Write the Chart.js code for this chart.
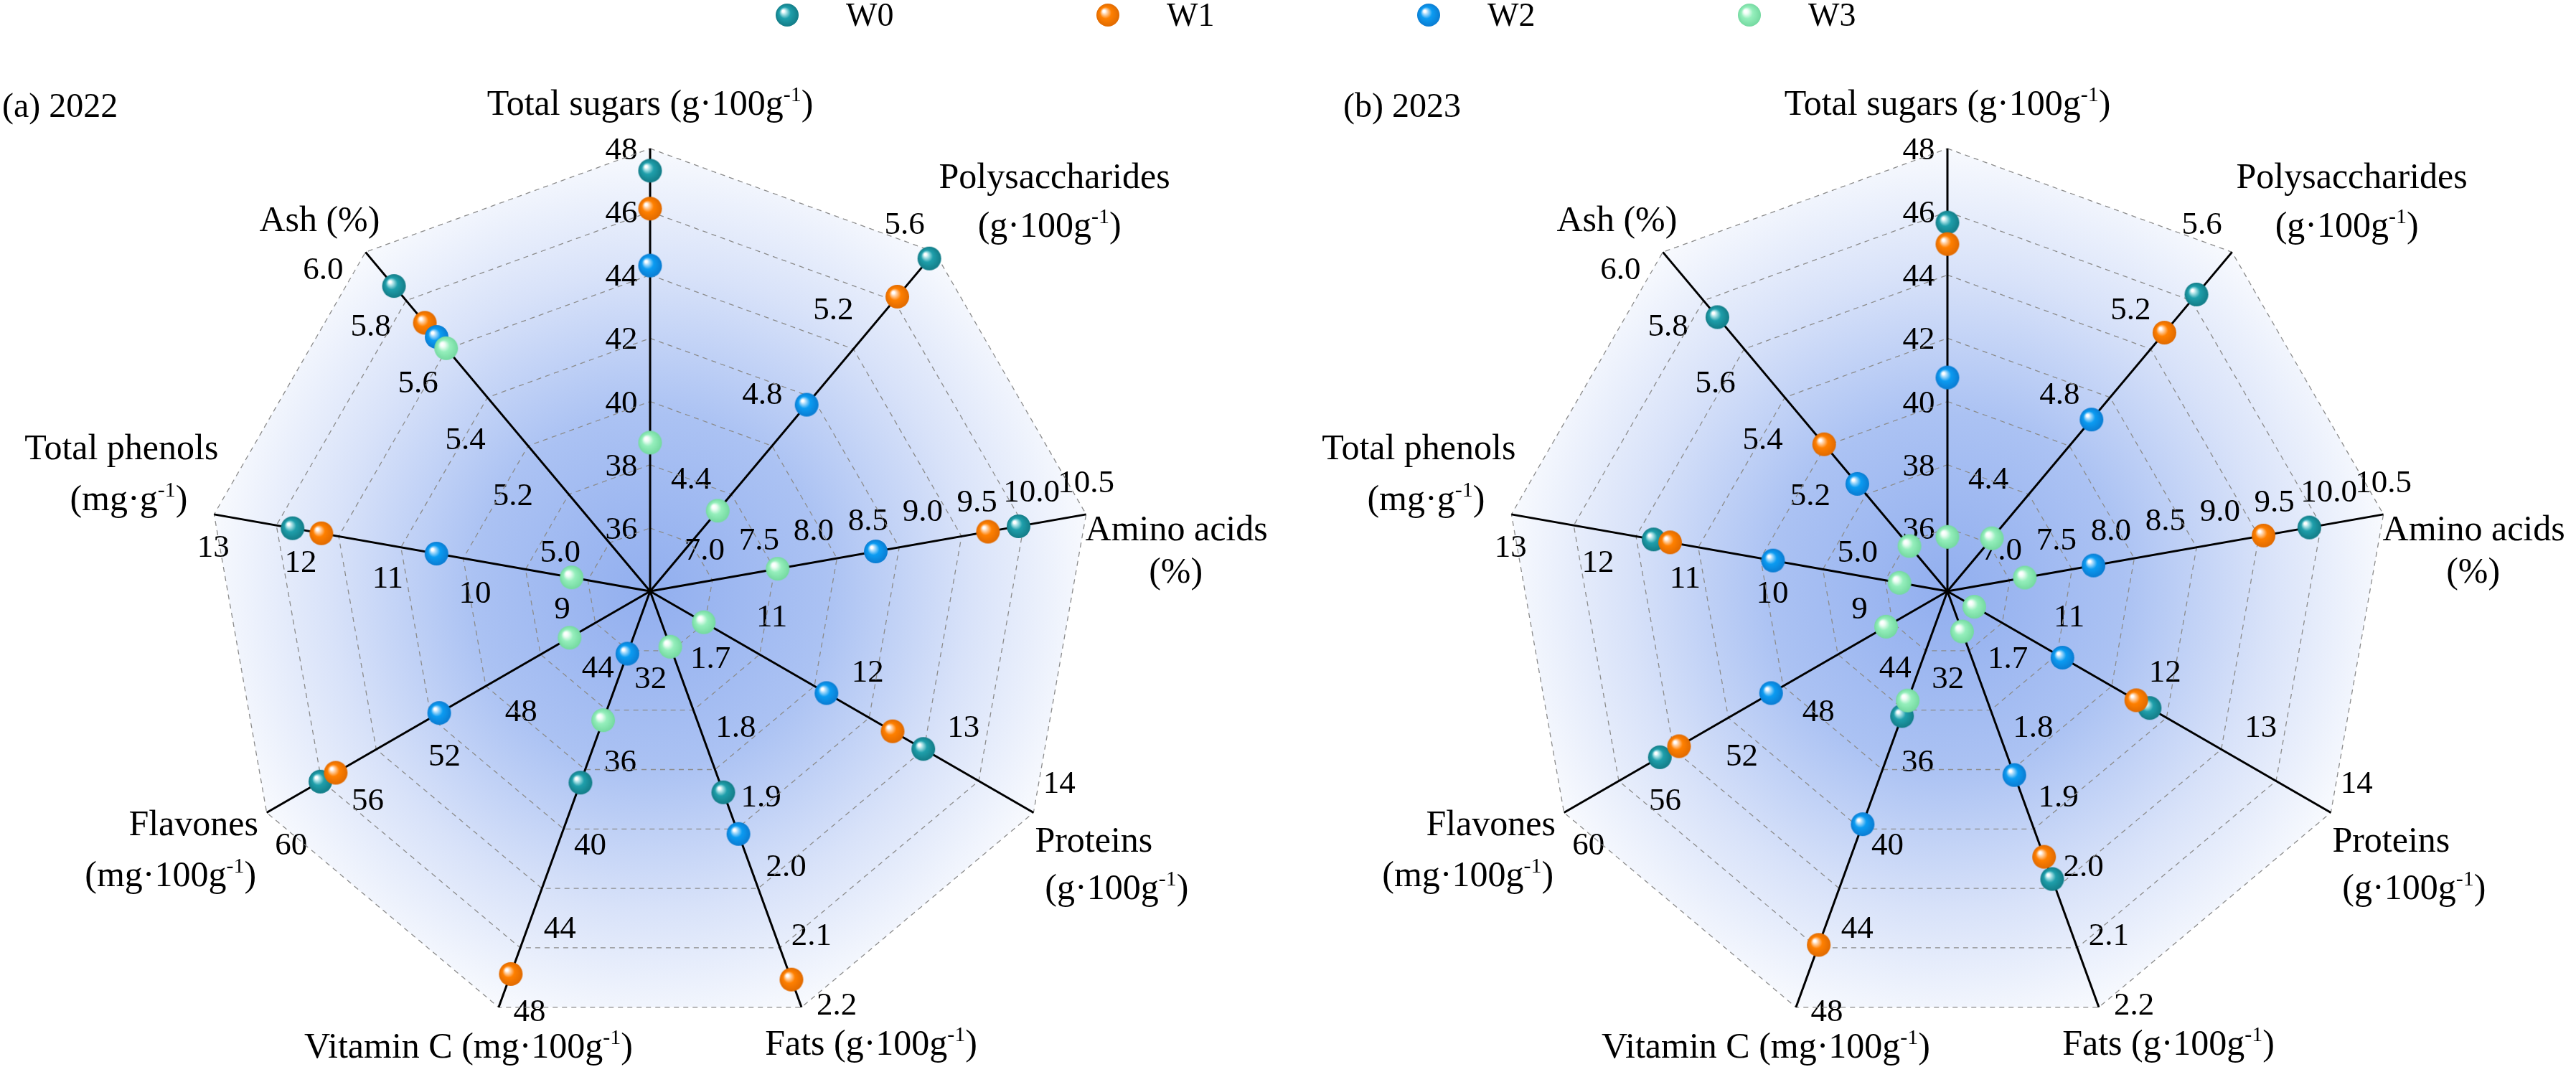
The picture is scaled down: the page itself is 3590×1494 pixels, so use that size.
<!DOCTYPE html>
<html>
<head>
<meta charset="utf-8">
<script src="https://cdn.jsdelivr.net/npm/chart.js@4.4.1/dist/chart.umd.min.js"></script>
<style>
  html, body { margin: 0; padding: 0; background: #fff; }
  #wrap { position: relative; width: 3590px; height: 1494px; overflow: hidden;
          font-family: "Liberation Serif", "Times New Roman", serif; }
  .panel { position: absolute; top: 0; }
  .item { position: absolute; top: 0; height: 42px; }
  .item canvas { position: absolute; top: 4px; }
  .item span { position: absolute; top: -2px; line-height: 46px; font-size: 46px; white-space: nowrap; color: #000; }
</style>
</head>
<body>
<div id="wrap">
  <canvas id="c2022" class="panel" style="left:0px" width="1795" height="1494"></canvas>
  <canvas id="c2023" class="panel" style="left:1795px" width="1795" height="1494"></canvas>
  <div id="legend"></div>
</div>
<script>
// axes, clockwise from the top
const axisLabels = ['Total sugars', 'Polysaccharides', 'Amino acids', 'Proteins', 'Fats',
  'Vitamin C', 'Flavones', 'Total phenols', 'Ash'];
const axisTitles = [
  ['Total sugars (g·100g^{-1})'],
  ['Polysaccharides', '(g·100g^{-1})'],
  ['Amino acids', '(%)'],
  ['Proteins', '(g·100g^{-1})'],
  ['Fats (g·100g^{-1})'],
  ['Vitamin C (mg·100g^{-1})'],
  ['Flavones', '(mg·100g^{-1})'],
  ['Total phenols', '(mg·g^{-1})'],
  ['Ash (%)']
];
const axisMin = [34, 4.0, 6.5, 10, 1.6, 28, 40, 8, 4.8];
const axisMax = [48, 5.6, 10.5, 14, 2.2, 48, 60, 13, 6.0];
const axisTicks = [
  ['36', '38', '40', '42', '44', '46', '48'],
  ['4.4', '4.8', '5.2', '5.6'],
  ['7.0', '7.5', '8.0', '8.5', '9.0', '9.5', '10.0', '10.5'],
  ['11', '12', '13', '14'],
  ['1.7', '1.8', '1.9', '2.0', '2.1', '2.2'],
  ['32', '36', '40', '44', '48'],
  ['44', '48', '52', '56', '60'],
  ['9', '10', '11', '12', '13'],
  ['5.0', '5.2', '5.4', '5.6', '5.8', '6.0']
];

const seriesNames = ['W0', 'W1', 'W2', 'W3'];

// (a) 2022
const w0_2022 = [47.3, 5.57, 9.88, 12.85, 1.89, 37.2, 57.2, 12.1, 5.88];
const w1_2022 = [46.1, 5.39, 9.60, 12.53, 2.16, 46.4, 56.4, 11.77, 5.75];
const w2_2022 = [44.3, 4.88, 8.57, 11.84, 1.95, 31.0, 51.0, 10.45, 5.70];
const w3_2022 = [38.7, 4.38, 7.67, 10.56, 1.68, 34.2, 44.2, 8.9, 5.66];

// (b) 2023
const w0_2023 = [45.66, 5.40, 9.82, 12.11, 2.015, 34.0, 55.0, 11.37, 5.77];
const w1_2023 = [44.98, 5.22, 9.40, 11.97, 1.983, 45.0, 54.0, 11.18, 5.32];
const w2_2023 = [40.76, 4.81, 7.84, 11.20, 1.865, 39.2, 49.2, 10.0, 5.18];
const w3_2023 = [35.72, 4.25, 7.21, 10.28, 1.658, 33.25, 43.2, 8.55, 4.96];

// --- look ---
const RINGS = 7;
const FONT = '"Liberation Serif", "Times New Roman", serif';
const ballColors = [
  { base: '#1f9fab', light: '#b4e6ea', dark: '#137c87' },
  { base: '#ff8000', light: '#ffd6b0', dark: '#e06a00' },
  { base: '#0c9cf2', light: '#b0defc', dark: '#0a7cd2' },
  { base: '#95efbc', light: '#ebfdf3', dark: '#74d9a0' }
];
// tick label centre offset from its spot on the axis
const tickOffset = [[-40, 0], [-42, -40], [0, -46], [36, -43], [49, -5], [43, 4], [34, 43], [-1, 44], [-59, 23]];
// title lines: centre x / baseline offset from the axis end
const titleOffset = [
  [[0, -47]],
  [[167, -89], [160, -21]],
  [[126, 36], [125, 95]],
  [[84, 54], [116, 120]],
  [[97, 66]],
  [[-42, 70]],
  [[-102, 31], [-134, 102]],
  [[-129, -77], [-119, -6]],
  [[-64, -29]]
];

function norm(vals) {
  return vals.map((v, i) => (v - axisMin[i]) / (axisMax[i] - axisMin[i]) * RINGS);
}

function makeBall(c, d) {
  const cv = document.createElement('canvas');
  cv.width = cv.height = d + 2;
  const x = cv.getContext('2d');
  const r = d / 2, cx = cv.width / 2, cy = cv.height / 2;
  const g = x.createRadialGradient(cx - r * 0.38, cy - r * 0.38, 0, cx, cy, r);
  g.addColorStop(0, '#ffffff');
  g.addColorStop(0.1, '#ffffff');
  g.addColorStop(0.22, c.light);
  g.addColorStop(0.5, c.base);
  g.addColorStop(1, c.dark);
  x.beginPath();
  x.arc(cx, cy, r, 0, Math.PI * 2);
  x.fillStyle = g;
  x.fill();
  return cv;
}

// text with ^{..} superscripts, centred on cx
function drawRich(ctx, text, cx, y, size) {
  const parts = text.split(/\^\{([^}]*)\}/);
  const segs = parts.map((t, k) => ({ t, sup: k % 2 === 1 }));
  let total = 0;
  segs.forEach(s => {
    ctx.font = (s.sup ? Math.round(size * 0.6) : size) + 'px ' + FONT;
    s.w = ctx.measureText(s.t).width;
    total += s.w;
  });
  let x = cx - total / 2;
  ctx.textAlign = 'left';
  segs.forEach(s => {
    ctx.font = (s.sup ? Math.round(size * 0.6) : size) + 'px ' + FONT;
    ctx.fillText(s.t, x, s.sup ? y - size * 0.38 : y);
    x += s.w;
  });
}

function radarDecor(panelText, panelX) {
  return {
    id: 'radarDecor',
    beforeDraw(chart) {
      const ctx = chart.ctx;
      const r = chart.scales.r;
      const n = chart.data.labels.length;
      ctx.save();

      // shaded polygon behind the grid
      const g = ctx.createRadialGradient(r.xCenter, r.yCenter, 0, r.xCenter, r.yCenter, r.drawingArea);
      g.addColorStop(0, '#92afef');
      g.addColorStop(0.4, '#abc2f3');
      g.addColorStop(0.72, '#d8e2f9');
      g.addColorStop(1, '#f8fafe');
      ctx.beginPath();
      for (let i = 0; i < n; i++) {
        const p = r.getPointPosition(i, r.drawingArea);
        if (i === 0) ctx.moveTo(p.x, p.y); else ctx.lineTo(p.x, p.y);
      }
      ctx.closePath();
      ctx.fillStyle = g;
      ctx.fill();

      // each axis has its own scale
      ctx.fillStyle = '#000';
      ctx.textAlign = 'center';
      ctx.textBaseline = 'alphabetic';
      ctx.font = '45px ' + FONT;
      axisTicks.forEach((ticks, i) => {
        ticks.forEach(t => {
          const v = (parseFloat(t) - axisMin[i]) / (axisMax[i] - axisMin[i]) * RINGS;
          const p = r.getPointPositionForValue(i, v);
          ctx.fillText(t, p.x + tickOffset[i][0], p.y + tickOffset[i][1] + 15);
        });
      });

      // axis titles
      axisTitles.forEach((lines, i) => {
        const e = r.getPointPosition(i, r.drawingArea);
        lines.forEach((ln, k) => {
          drawRich(ctx, ln, e.x + titleOffset[i][k][0], e.y + titleOffset[i][k][1], 50);
        });
      });

      ctx.textAlign = 'left';
      ctx.font = '48px ' + FONT;
      ctx.fillText(panelText, panelX, 163);
      ctx.restore();
    }
  };
}

function makeChart(id, series, panelText, panelX, pad) {
  return new Chart(document.getElementById(id), {
    type: 'radar',
    data: {
      labels: axisLabels,
      datasets: series.map((vals, k) => ({
        label: seriesNames[k],
        data: norm(vals),
        showLine: false,
        fill: false,
        borderWidth: 0,
        borderColor: 'rgba(0,0,0,0)',
        backgroundColor: ballColors[k].base,
        pointStyle: makeBall(ballColors[k], 33),
        pointRadius: 16,
        order: 3 - k
      }))
    },
    options: {
      responsive: false,
      animation: false,
      layout: { padding: pad },
      plugins: { legend: { display: false }, tooltip: { enabled: false } },
      scales: {
        r: {
          min: 0,
          max: RINGS,
          ticks: { stepSize: 1, display: false },
          pointLabels: { display: false },
          grid: { color: '#8c8c8c', lineWidth: 1.3 },
          border: { dash: [7, 6] },
          angleLines: { color: '#000', lineWidth: 3 }
        }
      }
    },
    plugins: [radarDecor(panelText, panelX)]
  });
}

makeChart('c2022', [w0_2022, w1_2022, w2_2022, w3_2022], '(a) 2022', 3,
  { left: 289, right: 272, top: 207, bottom: 53 });
makeChart('c2023', [w0_2023, w1_2023, w2_2023, w3_2023], '(b) 2023', 77,
  { left: 302, right: 259, top: 207, bottom: 53 });

// legend across the top
const legend = document.getElementById('legend');
const legendX = [1097, 1544, 1991, 2438];
seriesNames.forEach((name, k) => {
  const it = document.createElement('div');
  it.className = 'item';
  it.style.left = (legendX[k] - 17) + 'px';
  const ball = makeBall(ballColors[k], 32);
  ball.style.left = '0px';
  it.appendChild(ball);
  const sp = document.createElement('span');
  sp.textContent = name;
  sp.style.left = '99px';
  it.appendChild(sp);
  legend.appendChild(it);
});
</script>
</body>
</html>
